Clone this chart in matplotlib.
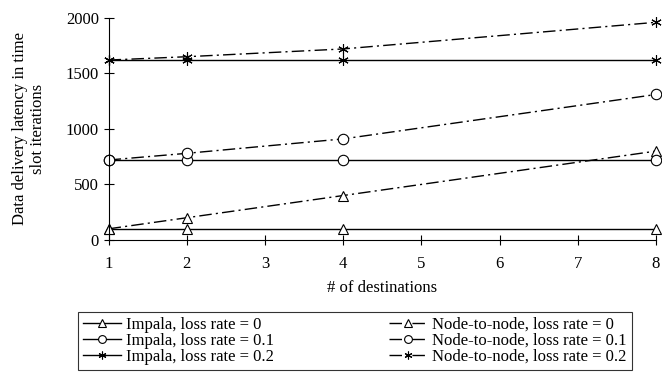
import matplotlib.pyplot as plt

plt.rcParams['font.family'] = ['Liberation Serif', 'DejaVu Serif']

dests = [1, 2, 4, 8]
impala_0 = [100, 100, 100, 100]
impala_01 = [720, 720, 720, 720]
impala_02 = [1620, 1620, 1620, 1620]
n2n_0 = [100, 200, 400, 800]
n2n_01 = [720, 780, 910, 1310]
n2n_02 = [1620, 1650, 1720, 1960]

fig = plt.figure(figsize=(6.62, 3.72), dpi=100)
ax = fig.add_axes([0.164, 0.355, 0.827, 0.597])

dashdot = (0, (9, 3, 1.5, 3))
mk = dict(markersize=7.5, markerfacecolor='white', markeredgecolor='black',
          markeredgewidth=0.8, clip_on=False)
star = (6, 2, 0)

ax.plot(dests, impala_0, '-', color='black', lw=1, marker='^', label='Impala, loss rate = 0', **mk)
ax.plot(dests, n2n_0, linestyle=dashdot, color='black', lw=1, marker='^', label='Node-to-node, loss rate = 0', **mk)
ax.plot(dests, impala_01, '-', color='black', lw=1, marker='o', label='Impala, loss rate = 0.1', **mk)
ax.plot(dests, n2n_01, linestyle=dashdot, color='black', lw=1, marker='o', label='Node-to-node, loss rate = 0.1', **mk)
ax.plot(dests, impala_02, '-', color='black', lw=1, marker=star, label='Impala, loss rate = 0.2', **mk)
ax.plot(dests, n2n_02, linestyle=dashdot, color='black', lw=1, marker=star, label='Node-to-node, loss rate = 0.2', **mk)

ax.set_xlim(1, 8)
ax.set_ylim(0, 2000)
ax.set_xticks(range(1, 9))
ax.set_yticks([0, 500, 1000, 1500, 2000])
ax.spines['top'].set_visible(False)
ax.spines['right'].set_visible(False)
ax.tick_params(labelsize=12, direction='inout', length=7, width=0.8)
ax.tick_params(axis='x', pad=8)
ax.set_xlabel('# of destinations', fontsize=12, labelpad=6)
ax.set_ylabel('Data delivery latency in time\nslot iterations', fontsize=12, labelpad=14)

handles, labels = ax.get_legend_handles_labels()
order = [0, 2, 4, 1, 3, 5]
leg = fig.legend([handles[i] for i in order], [labels[i] for i in order],
                 ncol=2, mode='expand', loc='lower left',
                 bbox_to_anchor=(0.118, 0.005, 0.836, 0.143),
                 fontsize=12, frameon=True, fancybox=False, edgecolor='black',
                 handlelength=2.3, handletextpad=0.3, labelspacing=0.0,
                 borderpad=0.3, borderaxespad=0, markerscale=0.75)
leg.get_frame().set_linewidth(0.8)

fig.savefig('out.png', dpi=100)
